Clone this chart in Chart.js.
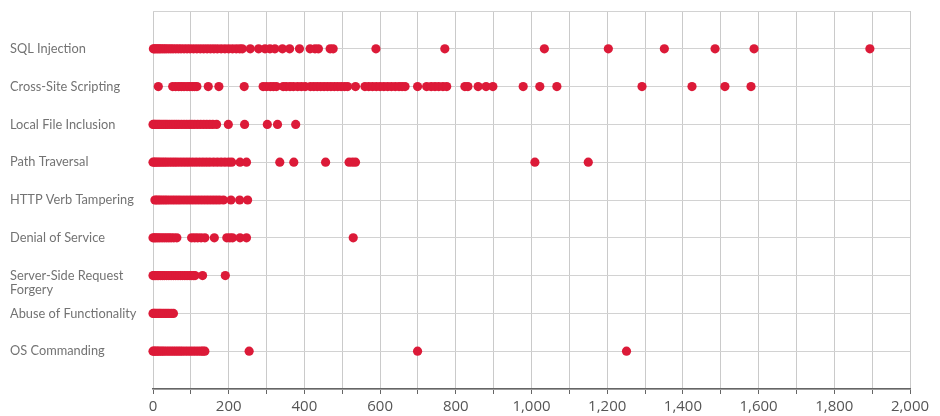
<!DOCTYPE html>
<html>
<head>
<meta charset="utf-8">
<script src="https://cdn.jsdelivr.net/npm/chart.js@4.4.1/dist/chart.umd.min.js"></script>
<style>
  html, body { margin: 0; padding: 0; background: #fff; }
  #wrap { width: 940px; height: 416px; }
</style>
</head>
<body>
<div id="wrap"><canvas id="attackChart" width="940" height="416"></canvas></div>
<script>
const categories = [
  'SQL Injection',
  'Cross-Site Scripting',
  'Local File Inclusion',
  'Path Traversal',
  'HTTP Verb Tampering',
  'Denial of Service',
  ['Server-Side Request', 'Forgery'],
  'Abuse of Functionality',
  'OS Commanding'
];

const sqlInjection = [1, 4, 8, 12, 16, 20, 25, 30, 35, 41, 47, 53, 60, 67, 74, 82, 90, 98, 107, 116, 125, 134,
  143, 152, 161, 170, 180, 190, 200, 210, 220, 229, 236, 257, 279, 296, 309, 322, 342, 361, 387, 415, 428, 437,
  468, 476, 589, 771, 1034, 1203, 1351, 1485, 1588, 1894];
const crossSiteScripting = [14, 52, 60, 68, 75, 82, 90, 97, 104, 110, 116, 146, 174, 241, 291, 300, 310, 318, 326,
  344, 352, 362, 371, 382, 392, 402, 416, 425, 434, 443, 452, 461, 470, 479, 488, 497, 506, 514, 535, 560, 570,
  580, 590, 600, 610, 620, 630, 640, 650, 658, 666, 699, 723, 735, 745, 755, 766, 776, 824, 832, 859, 880, 898,
  978, 1022, 1067, 1292, 1424, 1511, 1580];
const localFileInclusion = [0, 3, 6, 10, 14, 18, 23, 28, 33, 38, 44, 50, 56, 62, 68, 75, 82, 89, 96, 103, 110, 118,
  126, 134, 142, 150, 158, 168, 199, 242, 302, 329, 377];
const pathTraversal = [0, 4, 8, 13, 18, 24, 30, 36, 43, 50, 57, 64, 72, 80, 88, 96, 105, 114, 123, 132, 141, 150,
  160, 170, 180, 190, 200, 208, 230, 247, 335, 372, 456, 518, 527, 535, 1009, 1150];
const httpVerbTampering = [5, 9, 14, 19, 25, 31, 37, 44, 51, 58, 65, 72, 80, 88, 96, 104, 112, 120, 128, 136, 144,
  152, 160, 168, 176, 186, 206, 229, 250];
const denialOfService = [0, 4, 8, 13, 18, 24, 30, 36, 42, 48, 55, 63, 102, 110, 118, 127, 137, 162, 195, 203, 210,
  230, 247, 529];
const serverSideRequestForgery = [0, 3, 7, 11, 15, 20, 25, 30, 36, 42, 48, 54, 60, 66, 72, 78, 84, 90, 96, 102,
  107, 111, 131, 191];
const abuseOfFunctionality = [0, 3, 6, 10, 14, 18, 22, 27, 32, 37, 42, 48, 54];
const osCommanding = [0, 3, 7, 11, 15, 20, 25, 30, 36, 42, 48, 54, 60, 66, 72, 78, 85, 92, 99, 106, 113, 120, 127,
  132, 137, 254, 699, 1251];

const seriesValues = [sqlInjection, crossSiteScripting, localFileInclusion, pathTraversal, httpVerbTampering,
  denialOfService, serverSideRequestForgery, abuseOfFunctionality, osCommanding];

const xTickLabels = ['0', '200', '400', '600', '800', '1,000', '1,200', '1,400', '1,600', '1,800', '2,000'];

const RED = '#dc1a38';

const datasets = seriesValues.map((vals, i) => ({
  label: Array.isArray(categories[i]) ? categories[i].join(' ') : categories[i],
  data: vals.map(v => ({ x: v, y: i + 1 })),
  backgroundColor: RED,
  borderWidth: 0,
  pointRadius: 4.6,
  pointHoverRadius: 4.6,
  clip: false
}));

const ctx = document.getElementById('attackChart').getContext('2d');
new Chart(ctx, {
  type: 'scatter',
  data: { datasets },
  options: {
    responsive: false,
    animation: false,
    layout: { padding: { top: 11, right: 30, left: 10, bottom: 0 } },
    plugins: {
      legend: { display: false },
      tooltip: { enabled: false }
    },
    scales: {
      x: {
        type: 'linear',
        min: 0,
        max: 2000,
        afterFit: axis => { axis.height = 27; },
        border: { display: true, color: '#666', width: 1.5 },
        grid: {
          color: '#cacaca',
          lineWidth: 1,
          drawTicks: true,
          tickLength: 5,
          tickColor: '#666'
        },
        ticks: {
          stepSize: 100,
          autoSkip: false,
          maxRotation: 0,
          padding: 4,
          color: '#555',
          font: { family: 'Open Sans', size: 15 },
          callback: v => (v % 200 === 0 ? xTickLabels[v / 200] : '')
        }
      },
      y: {
        type: 'linear',
        min: 0,
        max: 10,
        reverse: true,
        afterFit: axis => { axis.width = 143; },
        border: { display: false },
        grid: { color: '#d2d2d2', lineWidth: 1, drawTicks: false },
        ticks: {
          stepSize: 1,
          autoSkip: false,
          crossAlign: 'far',
          color: '#737373',
          font: { family: 'Lato', size: 12.8, lineHeight: 1.13 },
          callback: v => {
            const c = categories[v - 1];
            if (!c) return '';
            return Array.isArray(c) ? ['', ...c] : c;
          }
        }
      }
    }
  }
});
</script>
</body>
</html>
